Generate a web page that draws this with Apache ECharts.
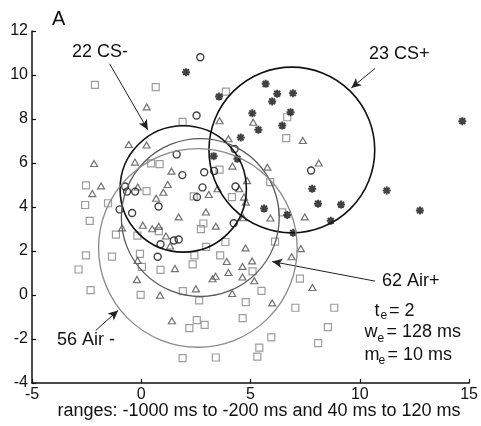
<!DOCTYPE html>
<html><head><meta charset="utf-8">
<script src="https://cdn.jsdelivr.net/npm/echarts@6/dist/echarts.min.js"></script>
<style>html,body{margin:0;padding:0;background:#fff}#c{width:481px;height:426px}</style>
</head><body><div id="c"></div>
<script>
// ---- data ----
const xTicks = [-5, 0, 5, 10, 15];
const yTicks = [-4, -2, 0, 2, 4, 6, 8, 10, 12];

// asterisks (CS+ trials)
const csPlusX = [2.05,3.56,5.69,6.22,6.94,5.99,5.08,6.83,5.36,6.45,4.55,3.31,4.40,7.82,11.23,14.69,8.09,9.14,5.62,6.68,8.67,6.95,12.75];
const csPlusY = [10.13,9.02,9.60,9.15,9.17,8.80,8.26,8.31,7.51,7.70,7.16,6.31,6.19,4.83,4.75,7.90,4.15,4.11,3.93,3.64,3.37,2.83,3.84];

// open circles (CS- trials)
const csMinusX = [2.70,2.53,1.62,4.27,2.88,3.33,1.88,-0.74,-0.65,-0.28,2.80,2.55,4.31,0.79,-0.99,-0.42,4.23,1.49,1.71,0.88,0.75,7.77];
const csMinusY = [10.81,8.16,6.39,6.64,5.58,5.64,5.45,4.93,4.70,4.70,4.89,4.45,4.93,4.02,3.89,3.73,3.26,2.48,2.52,2.31,1.74,5.66];

// triangles (Air+ trials)
const airPlusX = [0.25,3.58,-0.57,0.24,-2.16,-0.29,1.38,4.17,5.12,7.39,3.99,5.77,8.12,4.84,-1.84,-2.24,-0.16,1.21,1.01,4.48,3.49,3.09,0.68,4.70,4.78,2.96,1.71,5.91,7.48,-0.88,0.07,0.50,0.80,1.13,3.41,4.66,1.32,4.77,7.30,6.88,-0.17,1.54,3.91,5.07,4.63,3.99,3.26,3.40,4.63,5.17,-0.20,0.86,2.50,4.16,5.99,7.83,1.40];
const airPlusY = [8.55,7.92,6.84,6.82,5.98,6.04,5.63,5.86,7.85,7.02,7.10,5.81,6.00,5.20,4.96,4.61,4.91,5.02,4.67,4.83,4.83,4.57,4.40,4.45,4.22,3.77,3.55,3.50,3.55,3.05,3.17,3.01,3.12,2.68,3.13,3.51,2.23,2.14,2.11,1.74,1.57,1.20,1.52,1.55,1.30,1.02,0.74,0.85,0.82,0.65,0.70,-0.01,0.28,0.07,-0.36,0.34,-1.17];

// squares (Air- trials)
const airMinusX = [-2.12,0.66,3.87,1.89,6.68,6.63,0.45,0.84,3.58,-2.53,0.24,2.40,4.15,5.90,-1.52,-2.57,-2.36,-1.16,-0.18,0.80,2.84,2.73,3.85,2.97,6.45,6.12,3.61,-2.53,-1.34,-0.06,2.43,2.35,0.03,0.88,-2.87,5.09,7.26,5.50,-2.32,-0.03,1.90,2.65,4.78,7.05,8.83,2.54,2.90,2.20,4.64,8.54,5.95,8.09,5.40,5.31,1.89,3.41];
const airMinusY = [9.55,9.45,9.24,7.87,8.08,7.13,5.98,5.95,5.70,4.98,4.72,4.48,4.45,5.13,4.17,4.09,3.37,2.74,2.70,2.90,3.25,2.99,2.41,2.19,3.76,2.43,1.80,1.80,1.74,1.87,1.80,1.39,1.28,1.14,1.16,1.07,0.74,0.19,0.22,0.01,0.18,-0.24,-0.32,-0.58,-0.58,-1.14,-1.36,-1.51,-1.05,-1.46,-1.93,-2.19,-2.39,-2.80,-2.87,-2.84];

// fitted circles
const circleLabels = ['22 CS-', '23 CS+', '62 Air+', '56 Air -'];
const circleCx = [1.92, 6.89, 2.70, 2.59];
const circleCy = [4.82, 6.59, 3.52, 2.14];
const circleR  = [2.88, 3.78, 3.60, 4.53];

// annotation arrows (data coordinates)
const arrowFrom = [[-1.45, 10.51], [10.70, 10.30], [10.70, 0.63], [-2.08, -1.61]];
const arrowTo   = [[0.30, 7.51], [9.61, 9.41], [5.99, 1.52], [-1.06, -0.70]];

const xlabel = 'ranges: -1000 ms to -200 ms and 40 ms to 120 ms';

// ---- chart ----
const FONT = '"Liberation Sans", Arial, Helvetica, sans-serif';
const zip = (a, b) => a.map((v, i) => [v, b[i]]);
const circleColors = ['#111', '#111', '#5a5a5a', '#8a8a8a'];
const circleWidths = [1.6, 1.6, 1.3, 1.3];
const asterisk = 'path://M0,-5L0,5M-5,0L5,0M-3.6,-3.6L3.6,3.6M-3.6,3.6L3.6,-3.6';

const chart = echarts.init(document.getElementById('c'), null, {renderer: 'canvas'});
const hollow = (c, w) => ({color: 'rgba(0,0,0,0)', borderColor: c, borderWidth: w});

function txt(x, y, s, size, align) {
  return {type: 'text', x: x, y: y, style: {text: s, font: size + 'px ' + FONT, fill: '#111',
    textAlign: align || 'left', textVerticalAlign: 'middle'}};
}

chart.setOption({
  animation: false,
  backgroundColor: '#fff',
  grid: {left: 32, right: 10, top: 31, bottom: 43, containLabel: false},
  xAxis: {
    type: 'value', min: xTicks[0], max: xTicks[xTicks.length - 1], interval: 5,
    axisLine: {show: true, onZero: false, lineStyle: {color: '#111', width: 1.5}},
    axisTick: {show: true, inside: true, length: 4, lineStyle: {color: '#111', width: 1.2}},
    axisLabel: {color: '#111', fontSize: 16, fontFamily: FONT, margin: 4},
    splitLine: {show: false}
  },
  yAxis: {
    type: 'value', min: yTicks[0], max: yTicks[yTicks.length - 1], interval: 2,
    axisLine: {show: true, onZero: false, lineStyle: {color: '#111', width: 1.5}},
    axisTick: {show: true, inside: true, length: 4, lineStyle: {color: '#111', width: 1.2}},
    axisLabel: {color: '#111', fontSize: 16, fontFamily: FONT, margin: 4},
    splitLine: {show: false}
  },
  series: [
    {type: 'scatter', name: 'Air-', data: zip(airMinusX, airMinusY), symbol: 'rect', symbolSize: 7,
     itemStyle: hollow('#858585', 1.2), z: 2},
    {type: 'scatter', name: 'Air+', data: zip(airPlusX, airPlusY), symbol: 'triangle', symbolSize: [7, 6],
     itemStyle: hollow('#505050', 1.2), z: 3},
    {type: 'scatter', name: 'CS-', data: zip(csMinusX, csMinusY), symbol: 'circle', symbolSize: 7,
     itemStyle: hollow('#111', 1.4), z: 4},
    {type: 'scatter', name: 'CS+', data: zip(csPlusX, csPlusY), symbol: asterisk, symbolSize: 8,
     itemStyle: {color: 'rgba(0,0,0,0)', borderColor: '#111', borderWidth: 2}, z: 5},
    {type: 'custom', name: 'circles', z: 6,
     data: circleCx.map((c, i) => [c, circleCy[i], circleR[i], i]),
     encode: {x: 0, y: 1},
     renderItem: function (params, api) {
       const i = api.value(3);
       const c = api.coord([api.value(0), api.value(1)]);
       const s = api.size([api.value(2), api.value(2)]);
       return {type: 'circle', shape: {cx: c[0], cy: c[1], r: (s[0] + s[1]) / 2},
         style: {fill: 'none', stroke: circleColors[i], lineWidth: circleWidths[i]}};
     },
     markLine: {
       silent: true, symbol: ['none', 'arrow'], symbolSize: [7, 10],
       lineStyle: {color: '#222', width: 1, type: 'solid'}, label: {show: false},
       data: arrowFrom.map((f, i) => [{coord: f}, {coord: arrowTo[i]}])
     }
    }
  ],
  graphic: [
    txt(52, 19, 'A', 20),
    txt(72, 52, circleLabels[0], 18),
    txt(369, 53.8, circleLabels[1], 18),
    txt(382, 281.5, circleLabels[2], 18),
    txt(57, 340.5, circleLabels[3], 18),
    txt(374.5, 310.8, 't', 18), txt(380.5, 315.3, 'e', 12), txt(389, 310.8, '= 2', 18),
    txt(364.5, 332.5, 'w', 18), txt(377.5, 338.8, 'e', 12), txt(386.5, 332.5, '= 128 ms', 18),
    txt(364.5, 354.8, 'm', 18), txt(378.5, 360.8, 'e', 12), txt(387.5, 354.8, '= 10 ms', 18),
    txt(259, 411, xlabel, 18, 'center')
  ]
});
</script></body></html>
